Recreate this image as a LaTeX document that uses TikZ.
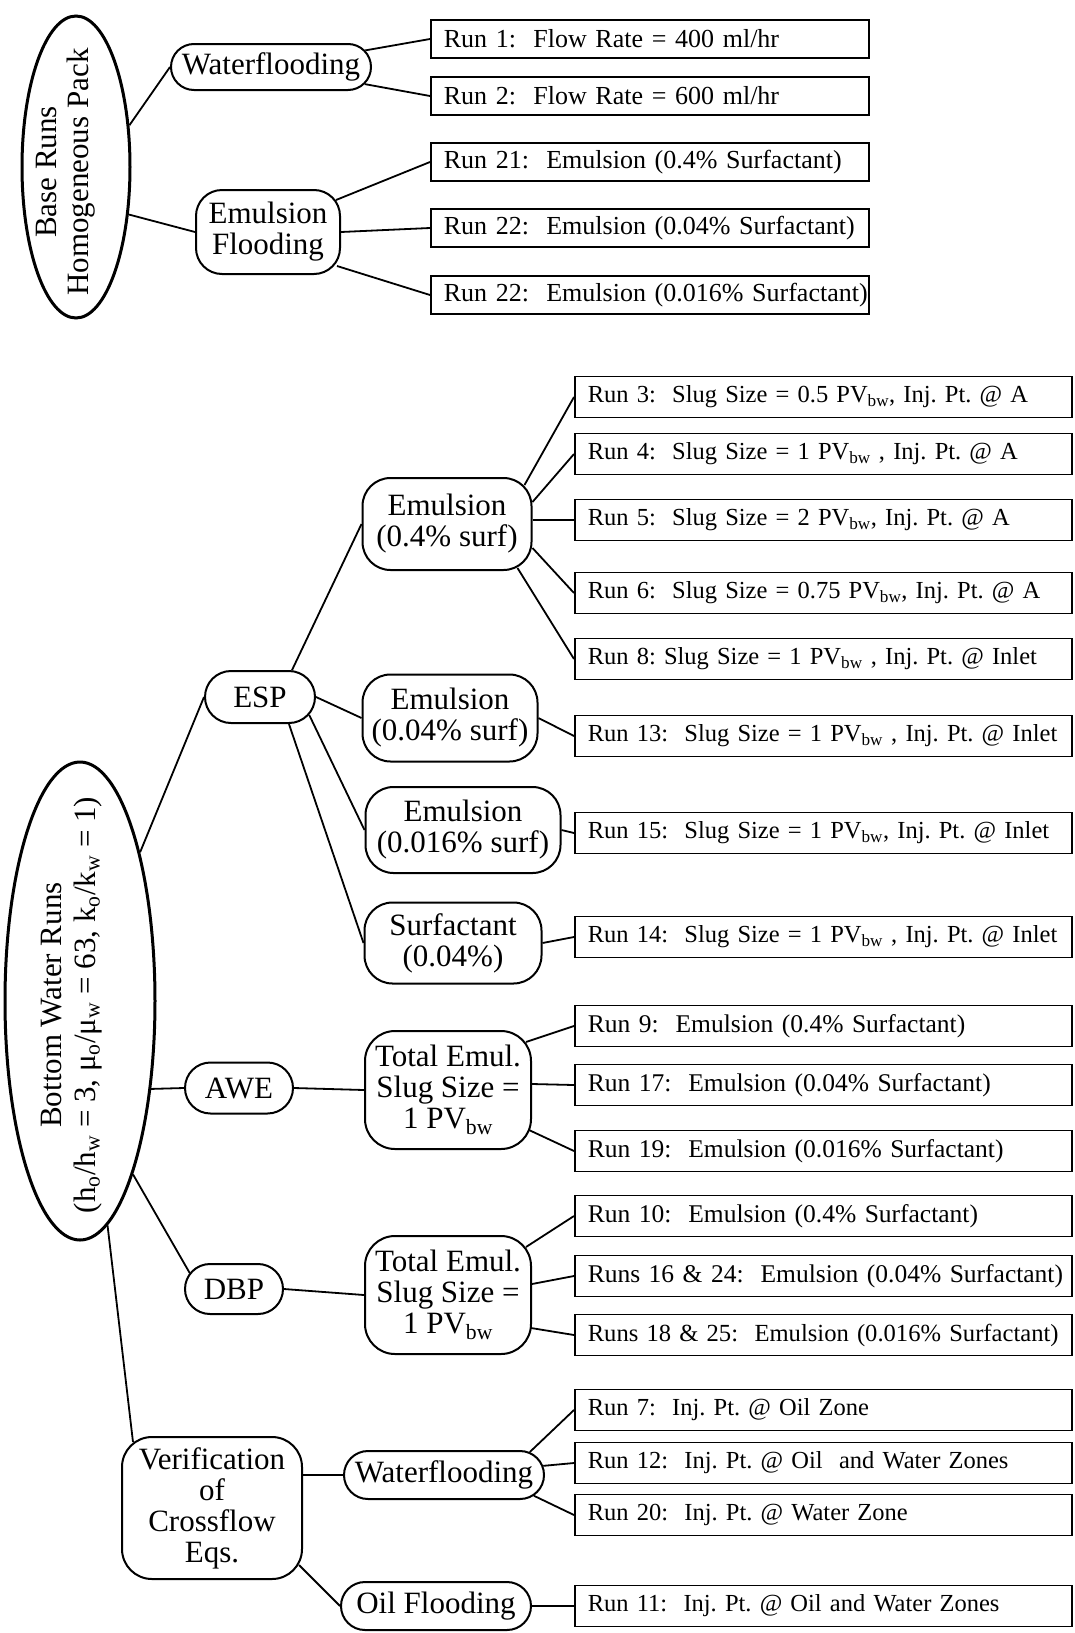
\documentclass[tikz,border=0pt]{standalone}
\usepackage{fontspec}
\setmainfont{Liberation Serif}
\usetikzlibrary{shapes.geometric,shapes.misc}
\frenchspacing

\newcommand{\stagefont}{\fontsize{31}{31}\selectfont}
\newcommand{\runfont}{\fontsize{26}{30}\selectfont}
\newcommand{\emulfont}{\fontsize{25.5}{30}\selectfont}
\newcommand{\slugfont}{\fontsize{24.5}{30}\selectfont}
\newcommand{\pvbw}{PV\textsubscript{bw}}

\tikzset{
  runbox/.style={draw, line width=1.6pt, anchor=west, inner xsep=13pt, inner ysep=0pt, align=left, font=\runfont},
  toprun/.style={runbox, text width=412pt, minimum height=38pt},
  lowrun/.style={runbox, text width=471pt, minimum height=41pt, font=\emulfont},
  slugrun/.style={lowrun, font=\slugfont},
  stage/.style={draw, line width=2pt, rounded corners=28pt, inner sep=0pt, align=center, font=\stagefont},
  pill/.style={draw, rounded rectangle, line width=2pt, inner sep=0pt, font=\stagefont},
  group/.style={draw, ellipse, line width=3pt, inner sep=0pt},
  link/.style={line width=1.8pt}
}

\begin{document}
\begin{tikzpicture}[x=1pt, y=-1pt]
			\useasboundingbox (0,0) rectangle (1075,1633);
			% base runs
			\node[group, minimum width=108pt, minimum height=302pt] (E1) at (76,167) {};
			\node[rotate=90, align=center, font={\fontsize{31}{32}\selectfont}] (E1txt) at (66,172) {Base Runs\\Homogeneous Pack};
			\node[pill, minimum width=200pt, minimum height=46pt] (WF1) at (271,67) {Waterflooding};
			\node[stage, rounded corners=26pt, minimum width=144pt, minimum height=84pt] (EF) at (268,232) {Emulsion\\Flooding};
			\node[toprun] (R1) at (430,39) {\mbox{Run 1:~ Flow Rate = 400 ml/hr}};
			\node[toprun] (R2) at (430,96) {\mbox{Run 2:~ Flow Rate = 600 ml/hr}};
			\node[toprun] (R21) at (430,162) {\mbox{Run 21:~ Emulsion (0.4\% Surfactant)}};
			\node[toprun] (R22a) at (430,228) {\mbox{Run 22:~ Emulsion (0.04\% Surfactant)}};
			\node[toprun] (R22b) at (430,295) {\mbox{Run 22:~ Emulsion (0.016\% Surfactant)}};
			\draw[link] (E1.38) -- (WF1.west);
			\draw[link] (E1.-42) -- (EF.west);
			\draw[link] (WF1) -- (R1.west);
			\draw[link] (WF1) -- (R2.west);
			\draw[link] ([shift={(-5,11)}]EF.north east) -- (R21.west);
			\draw[link] (EF.east) -- (R22a.west);
			\draw[link] ([shift={(-4,-9)}]EF.south east) -- (R22b.west);
			% bottom water runs
			\node[group, minimum width=150pt, minimum height=478pt] (E2) at (80,1001) {};
			\node[rotate=90, align=center, font={\fontsize{31}{34}\selectfont}] (E2txt) at (72,1005) {Bottom Water Runs\\(h\textsubscript{o}/h\textsubscript{w} = 3, μ\textsubscript{o}/μ\textsubscript{w} = 63, k\textsubscript{o}/k\textsubscript{w} = 1)};
			\node[pill, minimum width=110pt, minimum height=52pt] (ESP) at (260,697) {ESP};
			\node[stage, minimum width=169pt, minimum height=92pt] (Em04) at (447,524) {Emulsion\\(0.4\% surf)};
			\node[stage, minimum width=175pt, minimum height=87pt] (Em004) at (450,718) {Emulsion\\(0.04\% surf)};
			\node[stage, minimum width=195pt, minimum height=86pt] (Em0016) at (463,830) {Emulsion\\(0.016\% surf)};
			\node[stage, minimum width=177pt, minimum height=81pt] (Surf) at (453,943) {Surfactant\\(0.04\%)};
			\node[pill, minimum width=108pt, minimum height=51pt] (AWE) at (239,1088) {AWE};
			\node[stage, rounded corners=30pt, minimum width=166pt, minimum height=118pt] (TE1) at (448,1090) {Total Emul.\\Slug Size =\\1 \pvbw};
			\node[pill, minimum width=98pt, minimum height=50pt] (DBP) at (234,1289) {DBP};
			\node[stage, rounded corners=30pt, minimum width=166pt, minimum height=118pt] (TE2) at (448,1295) {Total Emul.\\Slug Size =\\1 \pvbw};
			\node[stage, rounded corners=30pt, minimum width=180pt, minimum height=142pt] (Ver) at (212,1508) {Verification\\of\\Crossflow\\Eqs.};
			\node[pill, minimum width=200pt, minimum height=48pt] (WF2) at (444,1475) {Waterflooding};
			\node[pill, minimum width=190pt, minimum height=48pt] (Oil) at (436,1606) {Oil Flooding};
			% run boxes
			\node[slugrun] (R3) at (574,397) {\mbox{Run 3:~ Slug Size = 0.5 \pvbw, Inj. Pt. @ A}};
			\node[slugrun] (R4) at (574,454) {\mbox{Run 4:~ Slug Size = 1 \pvbw\ , Inj. Pt. @ A}};
			\node[slugrun] (R5) at (574,520) {\mbox{Run 5:~ Slug Size = 2 \pvbw, Inj. Pt. @ A}};
			\node[slugrun] (R6) at (574,593) {\mbox{Run 6:~ Slug Size = 0.75 \pvbw, Inj. Pt. @ A}};
			\node[slugrun] (R8) at (574,659) {\mbox{Run 8: Slug Size = 1 \pvbw\ , Inj. Pt. @ Inlet}};
			\node[slugrun] (R13) at (574,736) {\mbox{Run 13:~ Slug Size = 1 \pvbw\ , Inj. Pt. @ Inlet}};
			\node[slugrun] (R15) at (574,833) {\mbox{Run 15:~ Slug Size = 1 \pvbw, Inj. Pt. @ Inlet}};
			\node[slugrun] (R14) at (574,937) {\mbox{Run 14:~ Slug Size = 1 \pvbw\ , Inj. Pt. @ Inlet}};
			\node[lowrun] (R9) at (574,1026) {\mbox{Run 9:~ Emulsion (0.4\% Surfactant)}};
			\node[lowrun] (R17) at (574,1085) {\mbox{Run 17:~ Emulsion (0.04\% Surfactant)}};
			\node[lowrun] (R19) at (574,1151) {\mbox{Run 19:~ Emulsion (0.016\% Surfactant)}};
			\node[lowrun] (R10) at (574,1216) {\mbox{Run 10:~ Emulsion (0.4\% Surfactant)}};
			\node[lowrun] (R16) at (574,1276) {\mbox{Runs 16 \& 24:~ Emulsion (0.04\% Surfactant)}};
			\node[lowrun, font={\fontsize{24.6}{30}\selectfont}] (R18) at (574,1335) {\mbox{Runs 18 \& 25:~ Emulsion (0.016\% Surfactant)}};
			\node[slugrun] (R7) at (574,1410) {\mbox{Run 7:~ Inj. Pt. @ Oil Zone}};
			\node[slugrun] (R12) at (574,1463) {\mbox{Run 12:~ Inj. Pt. @ Oil~ and Water Zones}};
			\node[slugrun] (R20) at (574,1515) {\mbox{Run 20:~ Inj. Pt. @ Water Zone}};
			\node[slugrun] (R11) at (574,1606) {\mbox{Run 11:~ Inj. Pt. @ Oil and Water Zones}};
			% connectors
			\draw[link] (E2.68) -- (ESP.west);
			\draw[link] (ESP.40) -- (Em04.west);
			\draw[link] (ESP.east) -- (Em004.west);
			\draw[link] (ESP.-20) -- (Em0016.west);
			\draw[link] (ESP.-43) -- (Surf.west);
			\draw[link] ([shift={(-8,8)}]Em04.north east) -- (R3.west);
			\draw[link] ([shift={(0,-22)}]Em04.east) -- (R4.west);
			\draw[link] ([shift={(0,-4)}]Em04.east) -- (R5.west);
			\draw[link] ([shift={(0,24)}]Em04.east) -- (R6.west);
			\draw[link] ([shift={(-15,-3)}]Em04.south east) -- (R8.west);
			\draw[link] (Em004.east) -- (R13.west);
			\draw[link] (Em0016.east) -- (R15.west);
			\draw[link] (Surf.east) -- (R14.west);
			\draw[link] (E2.-51) -- (AWE.west);
			\draw[link] (AWE.east) -- (TE1.west);
			\draw[link] ([shift={(-6,12)}]TE1.north east) -- (R9.west);
			\draw[link] ([shift={(0,-6)}]TE1.east) -- (R17.west);
			\draw[link] ([shift={(-3,-20)}]TE1.south east) -- (R19.west);
			\draw[link] (E2.-73) -- (DBP.160);
			\draw[link] (DBP.east) -- (TE2.west);
			\draw[link] ([shift={(-6,12)}]TE2.north east) -- (R10.west);
			\draw[link] ([shift={(0,-11)}]TE2.east) -- (R16.west);
			\draw[link] ([shift={(-1,33)}]TE2.east) -- (R18.west);
			\draw[link] (E2.-83) -- ([shift={(12,6)}]Ver.north west);
			\draw[link] ([shift={(0,-33)}]Ver.east) -- (WF2.west);
			\draw[link] ([shift={(-4,-15)}]Ver.south east) -- (Oil.west);
			\draw[link] (WF2.15) -- (R7.west);
			\draw[link] (WF2) -- (R12.west);
			\draw[link] (WF2.-13) -- (R20.west);
			\draw[link] (Oil.east) -- (R11.west);
		\end{tikzpicture}
\end{document}
